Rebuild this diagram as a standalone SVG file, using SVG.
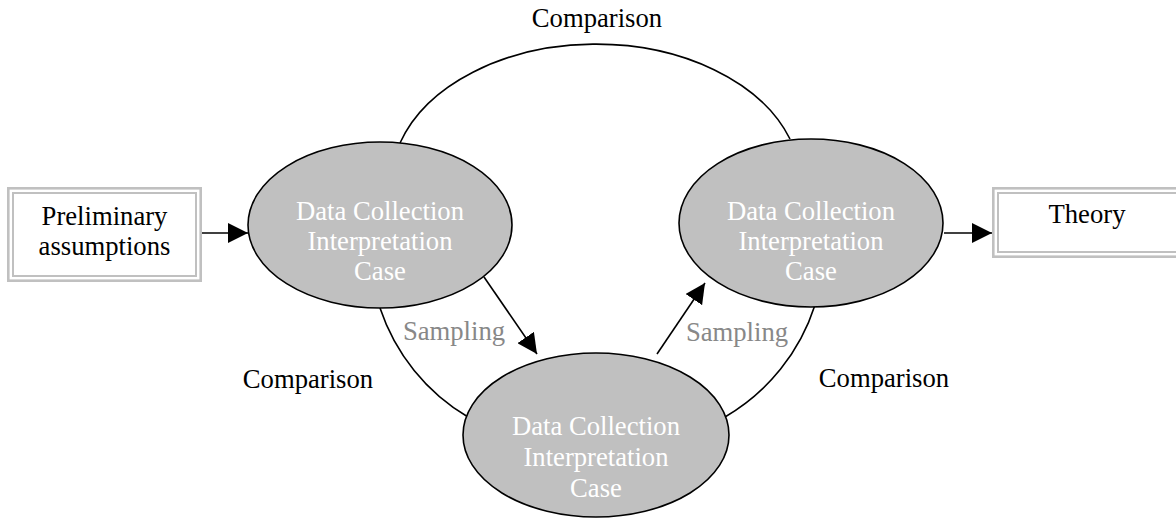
<svg xmlns="http://www.w3.org/2000/svg" width="1176" height="519" viewBox="0 0 1176 519">
<style>
text{font-family:"Liberation Serif","Times New Roman",serif;font-size:26.67px;text-anchor:middle}
.lbl{fill:#000}
.smp{fill:#888}
.in{fill:#fff}
.node{fill:#c0c0c0;stroke:#000;stroke-width:1.6}
.bo{fill:#fff;stroke:#c0c0c0;stroke-width:2.6}
.bi{fill:none;stroke:#c0c0c0;stroke-width:2}
.con{fill:none;stroke:#000;stroke-width:1.6}
</style>
<defs>
<marker id="ah" markerUnits="userSpaceOnUse" markerWidth="20" markerHeight="20" refX="20" refY="10" orient="auto" viewBox="0 0 20 20">
<path d="M0,0 L20,10 L0,20 z" fill="#000"/>
</marker>
</defs>
<rect width="1176" height="519" fill="#fff"/>
<g id="connectors">
<path class="con" d="M400,143 A205,140 0 0 1 790,139"/>
<path class="con" d="M380,308 A200,200 0 0 0 468,417"/>
<path class="con" d="M725,417 A200,200 0 0 0 815,305"/>
<line class="con" x1="202" y1="233" x2="248" y2="233" marker-end="url(#ah)"/>
<line class="con" x1="944" y1="233" x2="992" y2="233" marker-end="url(#ah)"/>
<line class="con" x1="484" y1="277" x2="537" y2="354" marker-end="url(#ah)"/>
<line class="con" x1="657" y1="354" x2="705" y2="283" marker-end="url(#ah)"/>
</g>
<g id="labels">
<text class="lbl" x="597" y="27">Comparison</text>
<text class="lbl" x="308" y="388">Comparison</text>
<text class="lbl" x="884" y="387">Comparison</text>
<text class="smp" x="454" y="340">Sampling</text>
<text class="smp" x="737" y="341">Sampling</text>
</g>
<g id="preliminary">
<rect class="bo" x="8.3" y="188.3" width="192.4" height="92.4"/>
<rect class="bi" x="13" y="193" width="183" height="83"/>
<text class="lbl" x="104.5" y="225">Preliminary</text>
<text class="lbl" x="104.5" y="255">assumptions</text>
</g>
<g id="theory">
<rect class="bo" x="993.3" y="188.3" width="190" height="68.4"/>
<rect class="bi" x="998" y="193" width="190" height="59"/>
<text class="lbl" x="1087" y="223">Theory</text>
</g>
<g id="node-left">
<ellipse class="node" cx="380" cy="225" rx="132" ry="83"/>
<text class="in" x="380" y="220">Data Collection</text>
<text class="in" x="380" y="250">Interpretation</text>
<text class="in" x="380" y="280">Case</text>
</g>
<g id="node-right">
<ellipse class="node" cx="811" cy="223" rx="132" ry="84"/>
<text class="in" x="811" y="220">Data Collection</text>
<text class="in" x="811" y="250">Interpretation</text>
<text class="in" x="811" y="280">Case</text>
</g>
<g id="node-bottom">
<ellipse class="node" cx="596" cy="435" rx="133" ry="82"/>
<text class="in" x="596" y="435">Data Collection</text>
<text class="in" x="596" y="466">Interpretation</text>
<text class="in" x="596" y="497">Case</text>
</g>
</svg>
